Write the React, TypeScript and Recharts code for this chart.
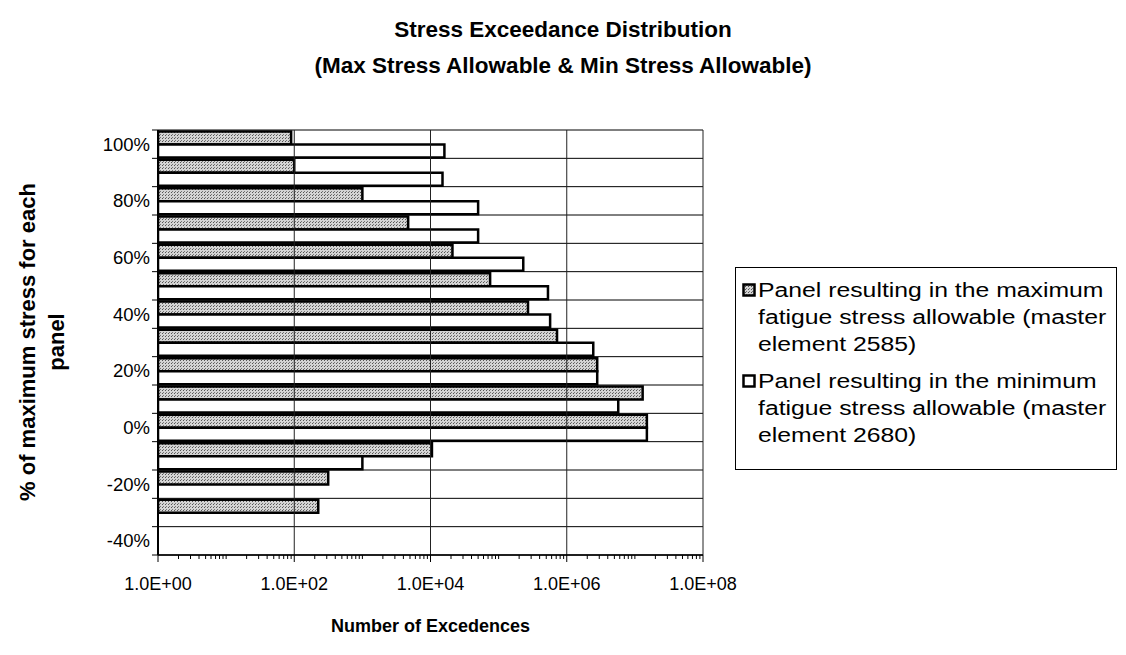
import { BarChart, Bar, XAxis, YAxis, CartesianGrid, ReferenceLine } from "recharts"

const FONT = "'Liberation Sans', Arial, Helvetica, sans-serif"

// stress level of each row, top to bottom
const categories = ["100%", "90%", "80%", "70%", "60%", "50%", "40%", "30%", "20%", "10%", "0%", "-10%", "-20%", "-30%", "-40%"]
// exceedances, master element 2585 (max allowable panel)
const maxElement2585 = [90, 100, 1000, 4700, 21000, 75000, 270000, 720000, 2800000, 13000000, 15000000, 10500, 315, 225, null]
// exceedances, master element 2680 (min allowable panel)
const minElement2680 = [16000, 15000, 50000, 50000, 230000, 530000, 570000, 2450000, 2800000, 5700000, 15000000, 1000, null, null, null]
const labelledTicks = [1, 1e2, 1e4, 1e6, 1e8]
const legendLines = [
  ["Panel resulting in the maximum", "fatigue stress allowable (master", "element 2585)"],
  ["Panel resulting in the minimum", "fatigue stress allowable (master", "element 2680)"],
]

const data = categories.map((stress, i) => ({
  stress,
  max: maxElement2585[i],
  min: minElement2680[i],
}))

// 1..9 x 10^k on the log axis; only the even decades get a label
const logTicks: number[] = []
for (let e = 0; e < 8; e++) for (let m = 1; m < 10; m++) logTicks.push(m * 10 ** e)
logTicks.push(1e8)

const W = 1126
const H = 655
const PLOT_LEFT = 158
const PLOT_RIGHT = 703
const PLOT_TOP = 130
const PLOT_BOTTOM = 555
const Y_AXIS_W = 60
const X_AXIS_H = 40
const BAND = (PLOT_BOTTOM - PLOT_TOP) / categories.length

const fmtExp = (v: number) => {
  const [m, e] = v.toExponential(1).split("e")
  const n = Number(e)
  return `${m}E${n < 0 ? "-" : "+"}${String(Math.abs(n)).padStart(2, "0")}`
}

const isLabelled = (v: number) => labelledTicks.some((t) => Math.abs(t - v) < t * 1e-9)

function XTick(props: any) {
  const { x, y, payload } = props
  const major = isLabelled(payload.value)
  return (
    <g>
      <line x1={x} x2={x} y1={y} y2={y + (major ? 7 : 4)} stroke="#000" strokeWidth={1} />
      {major && (
        <text x={x} y={y + 35} textAnchor="middle" fontSize={18} fontFamily={FONT} fill="#000">
          {fmtExp(payload.value)}
        </text>
      )}
    </g>
  )
}

// tick marks sit between categories, labels on every other row
function YTick(props: any) {
  const { x, y, index, payload } = props
  const last = index === categories.length - 1
  return (
    <g>
      <line x1={x - 6} x2={x} y1={y - BAND / 2} y2={y - BAND / 2} stroke="#000" strokeWidth={1} />
      {last && <line x1={x - 6} x2={x} y1={y + BAND / 2} y2={y + BAND / 2} stroke="#000" strokeWidth={1} />}
      {index % 2 === 0 && (
        <text x={x - 8} y={y + 6.5} textAnchor="end" fontSize={18.5} fontFamily={FONT} fill="#000">
          {payload.value}
        </text>
      )}
    </g>
  )
}

function Swatch({ fill }: { fill: string }) {
  return (
    <svg width={14} height={14} style={{ flex: "none", marginTop: 6.5, marginRight: 2 }}>
      <defs>
        <pattern id="stippleKey" width="3" height="3" patternUnits="userSpaceOnUse">
          <rect width="3" height="3" fill="#d4d4d4" />
          <rect x="0" y="0" width="1" height="1" fill="#555" />
          <rect x="1" y="2" width="1" height="1" fill="#777" />
        </pattern>
      </defs>
      <rect x={1.5} y={1.5} width={11} height={11} fill={fill} stroke="#000" strokeWidth={2.5} />
    </svg>
  )
}

export default function App() {
  return (
    <div style={{ position: "absolute", left: 0, top: 0, width: W, height: H, background: "#fff", fontFamily: FONT }}>
      <div style={{ position: "absolute", left: 0, top: 12, width: W, textAlign: "center", fontWeight: "bold", fontSize: 22.5, lineHeight: "36px" }}>
        <div>Stress Exceedance Distribution</div>
        <div>(Max Stress Allowable &amp; Min Stress Allowable)</div>
      </div>

      <BarChart
        width={W}
        height={H}
        data={data}
        layout="vertical"
        barCategoryGap={1.5}
        barGap={0}
        margin={{ top: PLOT_TOP, right: W - PLOT_RIGHT, bottom: H - PLOT_BOTTOM - X_AXIS_H, left: PLOT_LEFT - Y_AXIS_W }}
      >
        <defs>
          <pattern id="stipple" width="3" height="3" patternUnits="userSpaceOnUse">
            <rect width="3" height="3" fill="#d4d4d4" />
            <rect x="0" y="0" width="1" height="1" fill="#555" />
            <rect x="1" y="2" width="1" height="1" fill="#777" />
          </pattern>
        </defs>
        <CartesianGrid
          vertical={false}
          stroke="#000"
          strokeWidth={1}
          horizontalCoordinatesGenerator={({ offset }: any) => {
            const top = offset?.top ?? PLOT_TOP
            const h = offset?.height ?? PLOT_BOTTOM - PLOT_TOP
            return categories.map((_, i) => top + (i * h) / categories.length).concat(top + h)
          }}
        />
        {labelledTicks.slice(1).map((v) => (
          <ReferenceLine key={v} x={v} stroke="#222" strokeWidth={1} />
        ))}
        <XAxis
          type="number"
          scale="log"
          domain={[1, 1e8]}
          ticks={logTicks}
          interval={0}
          height={X_AXIS_H}
          tickSize={0}
          tickMargin={0}
          tickLine={false}
          tick={XTick}
          axisLine={{ stroke: "#000", strokeWidth: 1.5 }}
          allowDataOverflow
        />
        <YAxis
          type="category"
          dataKey="stress"
          width={Y_AXIS_W}
          interval={0}
          tickSize={0}
          tickMargin={0}
          tickLine={false}
          tick={YTick}
          axisLine={{ stroke: "#000", strokeWidth: 2 }}
        />
        <Bar dataKey="max" fill="url(#stipple)" stroke="#000" strokeWidth={2.5} isAnimationActive={false} />
        <Bar dataKey="min" fill="#fff" stroke="#000" strokeWidth={2.5} isAnimationActive={false} />
      </BarChart>

      {/* rotated y-axis title, centred on the plot */}
      <div
        style={{
          position: "absolute",
          left: 42 - 200,
          top: 342 - 29,
          width: 400,
          height: 58,
          transform: "rotate(-90deg)",
          textAlign: "center",
          fontWeight: "bold",
          fontSize: 22,
          lineHeight: "29px",
          whiteSpace: "nowrap",
        }}
      >
        <div>% of maximum stress for each</div>
        <div>panel</div>
      </div>

      <div style={{ position: "absolute", left: PLOT_LEFT, width: PLOT_RIGHT - PLOT_LEFT, top: 616, textAlign: "center", fontWeight: "bold", fontSize: 18 }}>
        Number of Excedences
      </div>

      <div
        style={{
          position: "absolute",
          left: 735,
          top: 267,
          width: 382,
          height: 203,
          boxSizing: "border-box",
          border: "1px solid #000",
          padding: "8.5px 6px",
          fontSize: 19.5,
          lineHeight: "27px",
        }}
      >
        {legendLines.map((lines, i) => (
          <div key={i} style={{ display: "flex", alignItems: "flex-start", marginBottom: i === 0 ? 10 : 0 }}>
            <Swatch fill={i === 0 ? "url(#stippleKey)" : "#fff"} />
            <div>
              {lines.map((l) => (
                <div key={l} style={{ whiteSpace: "nowrap", transform: "scaleX(1.27)", transformOrigin: "left center" }}>
                  {l}
                </div>
              ))}
            </div>
          </div>
        ))}
      </div>
    </div>
  )
}
